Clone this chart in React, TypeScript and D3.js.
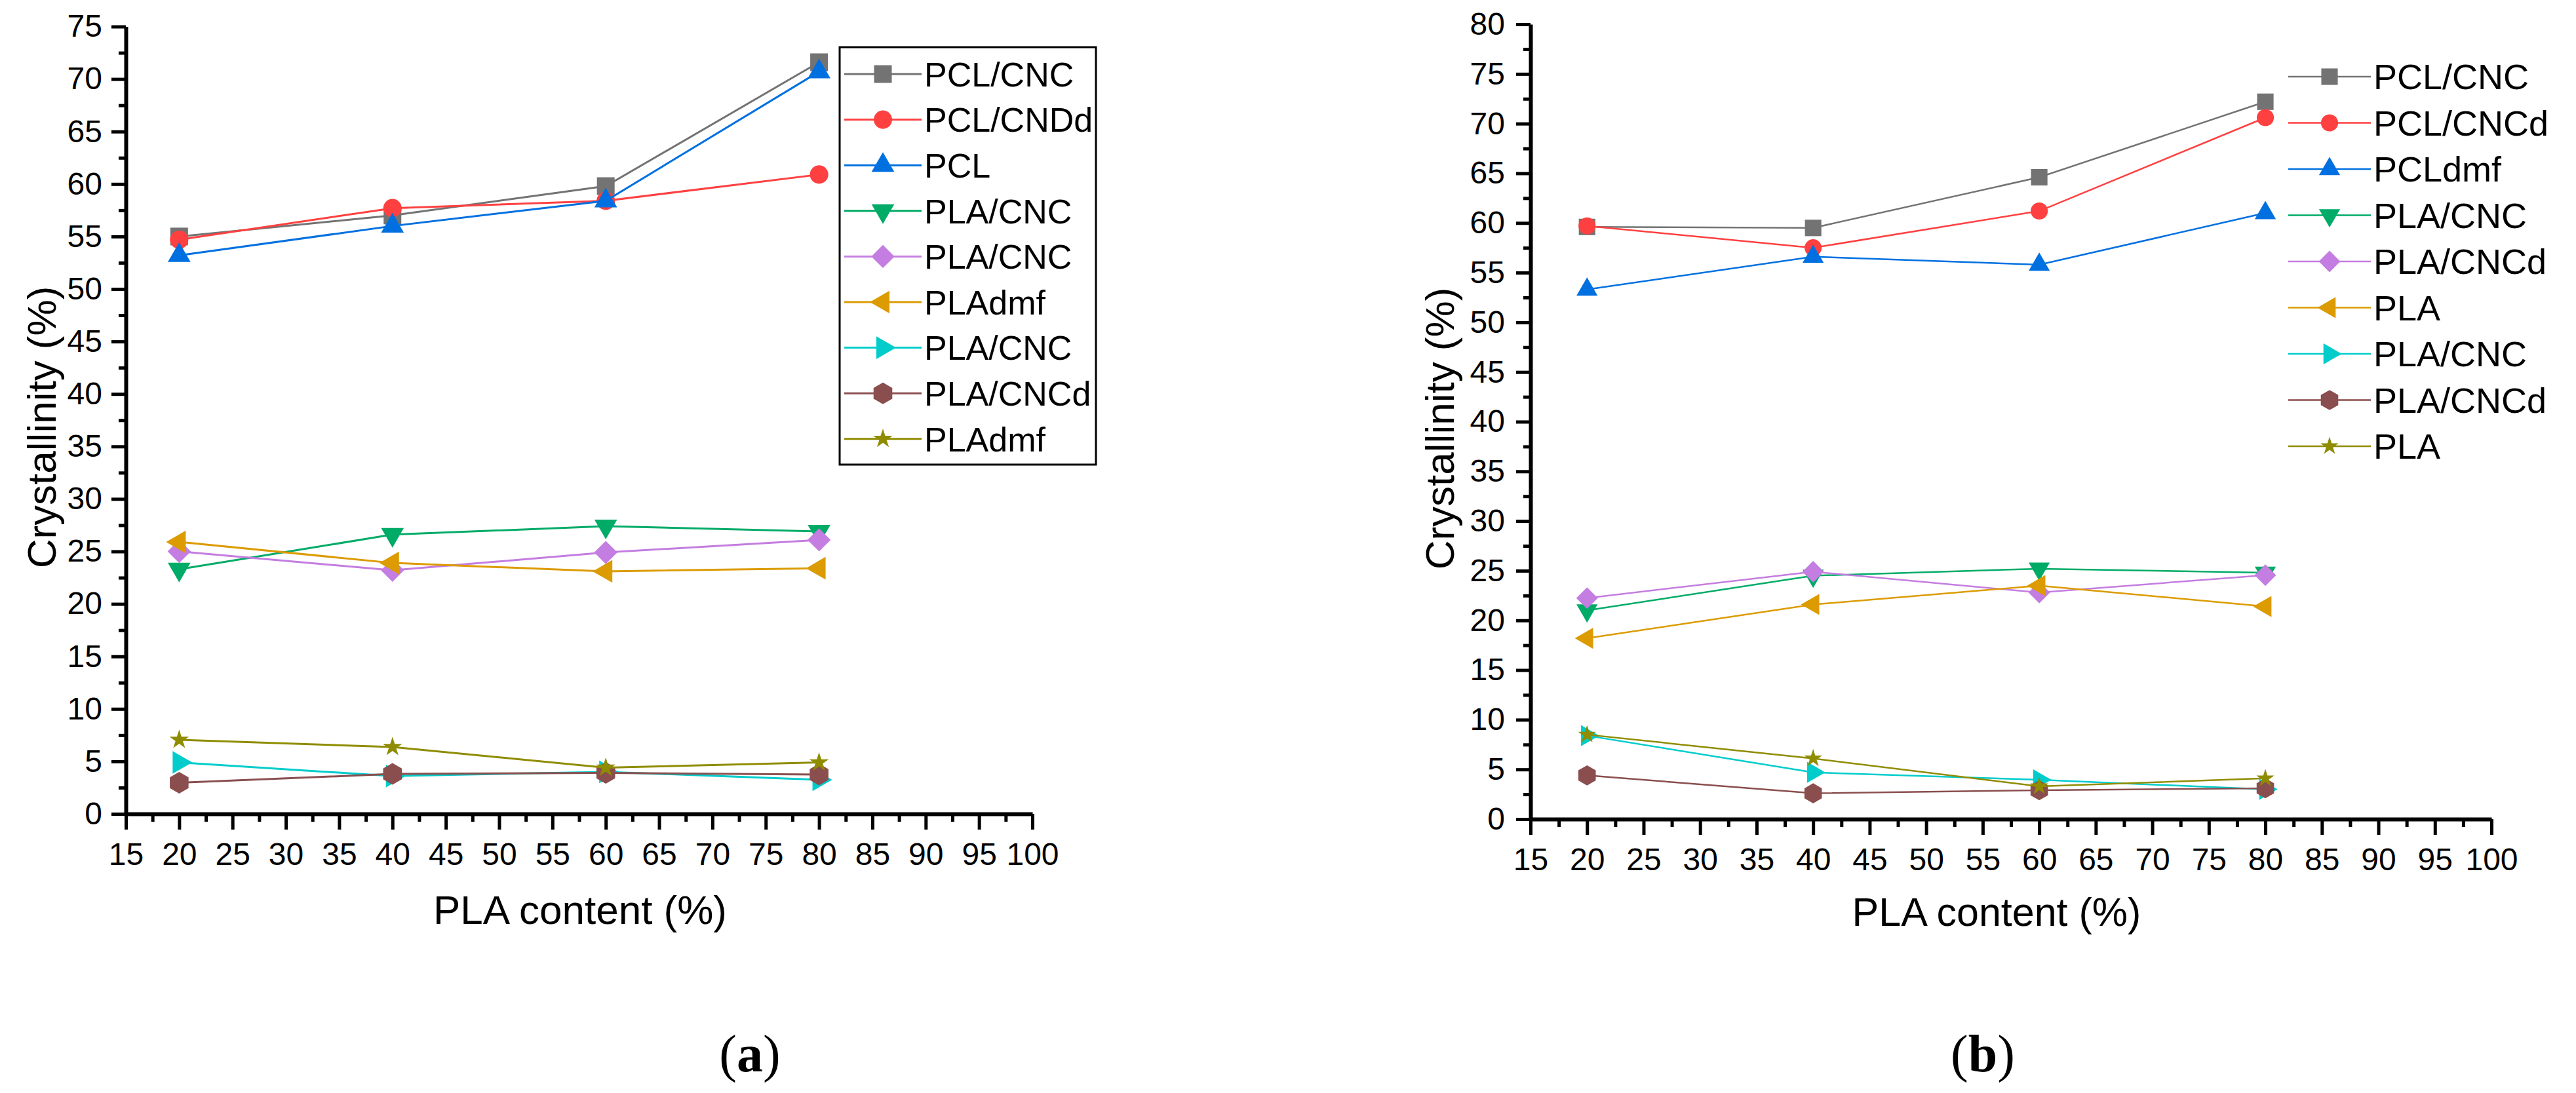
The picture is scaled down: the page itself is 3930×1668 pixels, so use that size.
import { useEffect, useRef } from 'react';
import * as d3 from 'd3';

// PLA content (%) at which each blend was measured
const plaContent = [20, 40, 60, 80];

// (a) crystallinity (%)
const aPclCnc = [55.0, 57.0, 59.8, 71.6];
const aPclCndd = [54.7, 57.7, 58.4, 60.9];
const aPcl = [53.2, 56.0, 58.4, 70.7];
const aPlaCnc = [23.3, 26.6, 27.4, 26.9];
const aPlaCncB = [25.0, 23.2, 24.9, 26.1];
const aPlaDmf = [25.9, 23.9, 23.1, 23.4];
const aPlaCncC = [4.9, 3.6, 4.0, 3.25];
const aPlaCncd = [2.96, 3.8, 3.9, 3.75];
const aPlaDmfB = [7.05, 6.37, 4.4, 4.9];
const aNames = ['PCL/CNC', 'PCL/CNDd', 'PCL', 'PLA/CNC', 'PLA/CNC', 'PLAdmf', 'PLA/CNC', 'PLA/CNCd', 'PLAdmf'];

// (b) crystallinity (%)
const bPclCnc = [59.6, 59.5, 64.6, 72.2];
const bPclCncd = [59.7, 57.5, 61.2, 70.6];
const bPclDmf = [53.3, 56.6, 55.8, 61.0];
const bPlaCnc = [21.0, 24.5, 25.2, 24.8];
const bPlaCncd = [22.25, 24.9, 22.8, 24.55];
const bPla = [18.2, 21.6, 23.5, 21.4];
const bPlaCncB = [8.4, 4.7, 3.95, 3.0];
const bPlaCncdB = [4.4, 2.6, 2.9, 3.1];
const bPlaB = [8.5, 6.1, 3.3, 4.1];
const bNames = ['PCL/CNC', 'PCL/CNCd', 'PCLdmf', 'PLA/CNC', 'PLA/CNCd', 'PLA', 'PLA/CNC', 'PLA/CNCd', 'PLA'];

const colors = ['#737373', '#ff4040', '#0070e0', '#00ab67', '#c47de0', '#dc9b00', '#00cccc', '#8a4e4e', '#8f8c00'];
const shapes = ['square', 'circle', 'up', 'down', 'diamond', 'left', 'right', 'hexagon', 'star'];

const SANS = '"Liberation Sans", Arial, sans-serif';
const SERIF = '"Liberation Serif", "Times New Roman", serif';

function markerPath(shape: string, k: number) {
  switch (shape) {
    case 'square':
      return { d: d3.symbol(d3.symbolSquare, 729 * k * k)()!, rot: 0 };
    case 'circle':
      return { d: d3.symbol(d3.symbolCircle, 620 * k * k)()!, rot: 0 };
    case 'up':
      return { d: d3.symbol(d3.symbolTriangle, 520 * k * k)()!, rot: 0 };
    case 'down':
      return { d: d3.symbol(d3.symbolTriangle, 520 * k * k)()!, rot: 180 };
    case 'left':
      return { d: d3.symbol(d3.symbolTriangle, 520 * k * k)()!, rot: -90 };
    case 'right':
      return { d: d3.symbol(d3.symbolTriangle, 520 * k * k)()!, rot: 90 };
    case 'diamond':
      return { d: d3.symbol(d3.symbolSquare, 625 * k * k)()!, rot: 45 };
    case 'star':
      return { d: d3.symbol(d3.symbolStar, 270 * k * k)()!, rot: 0 };
    default: {
      const r = 16.5 * k;
      const pts = d3.range(6).map((i) => {
        const a = (Math.PI / 3) * i - Math.PI / 2;
        return [r * Math.cos(a), r * Math.sin(a)];
      });
      return { d: 'M' + pts.map((p) => p.join(',')).join('L') + 'Z', rot: 0 };
    }
  }
}

interface Panel {
  series: number[][];
  names: string[];
  x0: number;
  x1: number;
  y0: number;
  y1: number;
  yMax: number;
  lineWidth: number;
  markScale: number;
  tickFont: number;
  yPad: number;
  yTitleX: number;
  yTitleY: number;
  yTitleFont: number;
  xTitleX: number;
  xTitleY: number;
  xTitleFont: number;
  legend: { box: number[] | null; rowY: number; step: number; lineX0: number; lineX1: number; textX: number; font: number };
  tag: string;
  tagX: number;
}

const panels: Panel[] = [
  {
    series: [aPclCnc, aPclCndd, aPcl, aPlaCnc, aPlaCncB, aPlaDmf, aPlaCncC, aPlaCncd, aPlaDmfB],
    names: aNames,
    x0: 192, x1: 1575, y0: 1242, y1: 40.5, yMax: 75,
    lineWidth: 3, markScale: 1, tickFont: 48, yPad: 14,
    yTitleX: 85, yTitleY: 652, yTitleFont: 62,
    xTitleX: 885, xTitleY: 1410, xTitleFont: 62,
    legend: { box: [1281, 72, 391, 637], rowY: 113, step: 69.6, lineX0: 1288, lineX1: 1406, textX: 1410, font: 52 },
    tag: 'a', tagX: 1144,
  },
  {
    series: [bPclCnc, bPclCncd, bPclDmf, bPlaCnc, bPlaCncd, bPla, bPlaCncB, bPlaCncdB, bPlaB],
    names: bNames,
    x0: 2335, x1: 3801, y0: 1250, y1: 37, yMax: 80,
    lineWidth: 2.5, markScale: 0.93, tickFont: 48, yPad: 17,
    yTitleX: 2218, yTitleY: 654, yTitleFont: 62,
    xTitleX: 3046, xTitleY: 1413, xTitleFont: 61,
    legend: { box: null, rowY: 117, step: 70.5, lineX0: 3491, lineX1: 3617, textX: 3621, font: 54 },
    tag: 'b', tagX: 3025,
  },
];

export default function App() {
  const svgRef = useRef<SVGSVGElement>(null);

  useEffect(() => {
    if (!svgRef.current) return;
    const svg = d3.select(svgRef.current);
    svg.selectAll('*').remove();
    svg.append('rect').attr('width', 3930).attr('height', 1668).attr('fill', '#fff');

    panels.forEach((p) => {
      const g = svg.append('g');
      const x = d3.scaleLinear().domain([15, 100]).range([p.x0, p.x1]);
      const y = d3.scaleLinear().domain([0, p.yMax]).range([p.y0, p.y1]);

      // minor ticks
      g.append('g')
        .attr('transform', `translate(${p.x0},0)`)
        .call(d3.axisLeft(y).tickValues(d3.range(2.5, p.yMax, 5)).tickSize(11).tickFormat(() => ''))
        .call((a) => a.select('.domain').remove())
        .selectAll('line').attr('stroke-width', 5);
      g.append('g')
        .attr('transform', `translate(0,${p.y0})`)
        .call(d3.axisBottom(x).tickValues(d3.range(17.5, 100, 5)).tickSize(12).tickFormat(() => ''))
        .call((a) => a.select('.domain').remove())
        .selectAll('line').attr('stroke-width', 5);

      // major ticks + axis lines
      const ya = g.append('g')
        .attr('transform', `translate(${p.x0},0)`)
        .call(d3.axisLeft(y).tickValues(d3.range(0, p.yMax + 1, 5)).tickSize(22).tickSizeOuter(0).tickPadding(p.yPad));
      const xa = g.append('g')
        .attr('transform', `translate(0,${p.y0})`)
        .call(d3.axisBottom(x).tickValues(d3.range(15, 101, 5)).tickSize(24).tickSizeOuter(0).tickPadding(20));
      [ya, xa].forEach((a) => {
        a.select('.domain').attr('stroke-width', 6);
        a.selectAll('.tick line').attr('stroke-width', 5);
        a.selectAll('text').attr('font-family', SANS).attr('font-size', p.tickFont).attr('fill', '#000');
      });

      // series
      const line = d3.line<number>().x((_, i) => x(plaContent[i])).y((v) => y(v));
      p.series.forEach((vals, si) => {
        g.append('path')
          .attr('d', line(vals))
          .attr('fill', 'none')
          .attr('stroke', colors[si])
          .attr('stroke-width', p.lineWidth);
        const m = markerPath(shapes[si], p.markScale);
        vals.forEach((v, i) => {
          g.append('path')
            .attr('d', m.d)
            .attr('transform', `translate(${x(plaContent[i])},${y(v)}) rotate(${m.rot})`)
            .attr('fill', colors[si]);
        });
      });

      // legend
      const L = p.legend;
      if (L.box) {
        g.append('rect')
          .attr('x', L.box[0]).attr('y', L.box[1]).attr('width', L.box[2]).attr('height', L.box[3])
          .attr('fill', 'none').attr('stroke', '#000').attr('stroke-width', 3);
      }
      p.names.forEach((name, si) => {
        const ry = L.rowY + si * L.step;
        g.append('line')
          .attr('x1', L.lineX0).attr('x2', L.lineX1).attr('y1', ry).attr('y2', ry)
          .attr('stroke', colors[si]).attr('stroke-width', p.lineWidth);
        const m = markerPath(shapes[si], p.markScale);
        g.append('path')
          .attr('d', m.d)
          .attr('transform', `translate(${(L.lineX0 + L.lineX1) / 2},${ry}) rotate(${m.rot})`)
          .attr('fill', colors[si]);
        g.append('text')
          .attr('x', L.textX).attr('y', ry).attr('dy', '0.36em')
          .attr('font-family', SANS).attr('font-size', L.font)
          .text(name);
      });

      // axis titles
      g.append('text')
        .attr('transform', `translate(${p.yTitleX},${p.yTitleY}) rotate(-90)`)
        .attr('text-anchor', 'middle')
        .attr('font-family', SANS).attr('font-size', p.yTitleFont)
        .text('Crystallinity (%)');
      g.append('text')
        .attr('x', p.xTitleX).attr('y', p.xTitleY)
        .attr('text-anchor', 'middle')
        .attr('font-family', SANS).attr('font-size', p.xTitleFont)
        .text('PLA content (%)');

      // panel tag
      const t = g.append('text')
        .attr('x', p.tagX).attr('y', 1635)
        .attr('text-anchor', 'middle')
        .attr('font-family', SERIF).attr('font-size', 80);
      t.append('tspan').text('(');
      t.append('tspan').attr('font-weight', 'bold').text(p.tag);
      t.append('tspan').text(')');
    });
  }, []);

  return (
    <svg
      ref={svgRef}
      width={3930}
      height={1668}
      style={{ position: 'absolute', left: 0, top: 0, display: 'block' }}
    />
  );
}
